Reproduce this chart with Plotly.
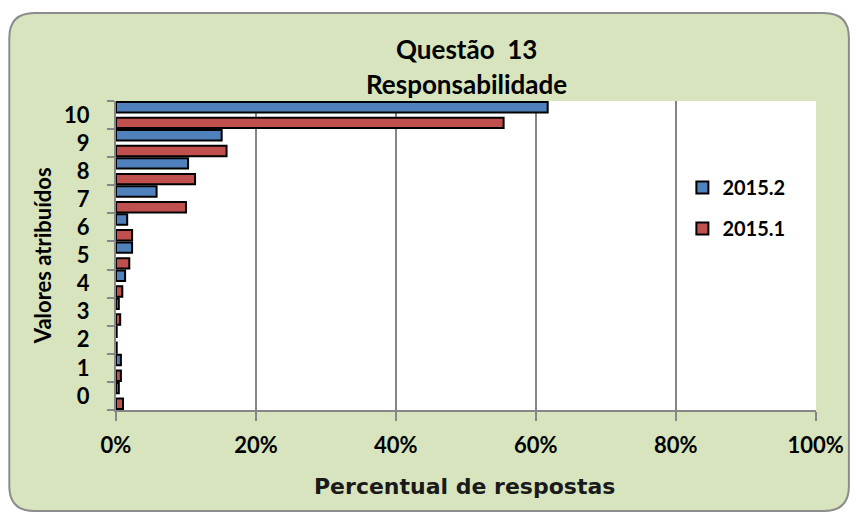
import plotly.graph_objects as go

categories = ["0", "1", "2", "3", "4", "5", "6", "7", "8", "9", "10"]
serie_2015_2 = [0.4, 0.7, 0.1, 0.4, 1.3, 2.3, 1.6, 5.8, 10.3, 15.1, 61.7]
serie_2015_1 = [1.0, 0.7, 0.1, 0.6, 0.9, 1.9, 2.3, 10.0, 11.3, 15.8, 55.4]
x_ticks = [0, 20, 40, 60, 80, 100]
x_tick_labels = ["0%", "20%", "40%", "60%", "80%", "100%"]

W, H = 856, 513
L, R, T, B = 116, 818, 101, 410

def px(x):
    return (x - L) / (R - L)

def py(y):
    return (B - y) / (B - T)

FONT = "Lato"
BLUE = "#4F81BD"
RED = "#C0504D"
GREEN = "#D7E4BD"
GRAY = "#868686"

fig = go.Figure()
fig.add_trace(go.Bar(
    y=categories, x=serie_2015_2, orientation="h", name="<b>2015.2</b>",
    legendgroup="a",
    marker=dict(color=BLUE, line=dict(color="black", width=2)),
    width=0.37, offset=0.095,
))
fig.add_trace(go.Bar(
    y=categories, x=serie_2015_1, orientation="h", name="<b>2015.1</b>",
    legendgroup="b",
    marker=dict(color=RED, line=dict(color="black", width=2)),
    width=0.37, offset=-0.465,
))

# rounded background
x0, x1, y0, y1, r = 9, 851, 13, 511, 25
path = (
    f"M {px(x0 + r)},{py(y0)} L {px(x1 - r)},{py(y0)} "
    f"Q {px(x1)},{py(y0)} {px(x1)},{py(y0 + r)} "
    f"L {px(x1)},{py(y1 - r)} Q {px(x1)},{py(y1)} {px(x1 - r)},{py(y1)} "
    f"L {px(x0 + r)},{py(y1)} Q {px(x0)},{py(y1)} {px(x0)},{py(y1 - r)} "
    f"L {px(x0)},{py(y0 + r)} Q {px(x0)},{py(y0)} {px(x0 + r)},{py(y0)} Z"
)
shapes = [
    dict(type="path", path=path, xref="paper", yref="paper", layer="below",
         fillcolor=GREEN, line=dict(color="#8C8C8C", width=2)),
    dict(type="rect", xref="paper", yref="paper", x0=0, x1=1, y0=0, y1=1,
         layer="below", fillcolor="white", line=dict(width=0)),
]

annotations = [
    dict(text="<b>Questão  13</b>", x=0.5, y=py(49), xref="paper", yref="paper",
         showarrow=False, font=dict(family=FONT, size=26, color="black"),
         xanchor="center", yanchor="middle"),
    dict(text="<b>Responsabilidade</b>", x=0.5, y=py(84), xref="paper", yref="paper",
         showarrow=False, font=dict(family=FONT, size=26, color="black"),
         xanchor="center", yanchor="middle"),
    dict(text="<b>Percentual de respostas</b>", x=px(465), y=py(486), xref="paper",
         yref="paper", showarrow=False,
         font=dict(family="DejaVu Sans", size=22, color="#1a1a1a"),
         xanchor="center", yanchor="middle"),
    dict(text="<b>Valores atribuídos</b>", x=px(43), y=py(256), xref="paper",
         yref="paper", showarrow=False, textangle=-90,
         font=dict(family=FONT, size=22, color="black"),
         xanchor="center", yanchor="middle"),
]

fig.update_layout(
    width=W, height=H,
    margin=dict(l=L, r=W - R, t=T, b=H - B),
    paper_bgcolor="white",
    plot_bgcolor="rgba(0,0,0,0)",
    barmode="overlay",
    shapes=shapes,
    annotations=annotations,
    showlegend=True,
    legend=dict(x=px(684), y=py(168), xanchor="left", yanchor="top",
                bgcolor="rgba(0,0,0,0)",
                font=dict(family=FONT, size=20, color="black"),
                tracegroupgap=12, itemwidth=30),
    xaxis=dict(
        range=[0, 100.05], tickvals=x_ticks, ticktext=[f"<b>{t}</b>" for t in x_tick_labels],
        showgrid=True, gridcolor=GRAY, gridwidth=2,
        showline=True, linecolor=GRAY, linewidth=2,
        ticks="outside", ticklen=9, tickcolor=GRAY, tickwidth=2,
        tickfont=dict(family=FONT, size=22, color="black"),
        ticklabelstandoff=6, zeroline=False, fixedrange=True,
    ),
    yaxis=dict(
        type="category", categoryorder="array", categoryarray=categories,
        tickvals=categories, ticktext=[f"<b>{c}</b>" for c in categories],
        tickson="boundaries", ticks="outside", ticklen=7, tickcolor=GRAY, tickwidth=2,
        showline=True, linecolor=GRAY, linewidth=2, showgrid=False,
        tickfont=dict(family=FONT, size=22, color="black"),
        ticklabelstandoff=20, range=[-0.5, 10.5], fixedrange=True,
    ),
)

fig.write_html("out.html", config={"displayModeBar": False},
               post_script="document.body.style.margin='0px';")
